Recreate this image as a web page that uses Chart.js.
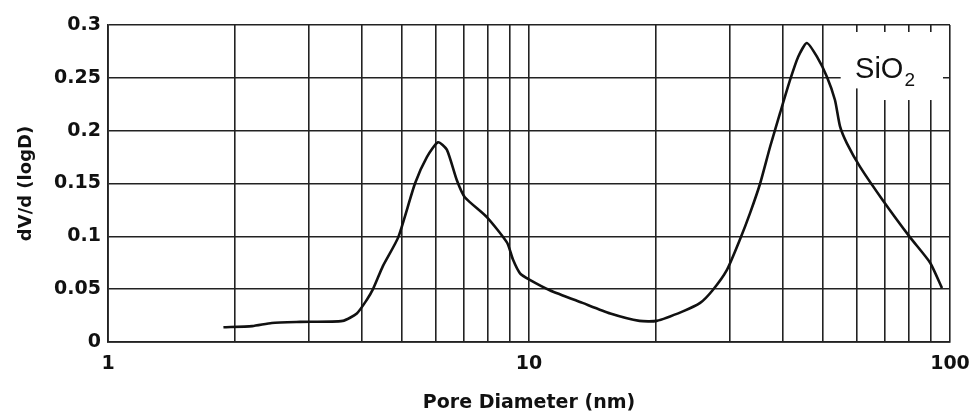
<!DOCTYPE html>
<html>
<head>
<meta charset="utf-8">
<script src="https://cdn.jsdelivr.net/npm/chart.js@4"></script>
<style>
  body { margin: 0; background: #fff; }
  canvas { display: block; }
</style>
</head>
<body>
<canvas id="poreChart" width="978" height="414"></canvas>
<script>
// pore size distribution (BJH style), dV/d(logD) vs diameter
const diameters = [1.88, 2.2, 2.45, 2.86, 3.61, 3.90, 4.12, 4.26, 4.50, 4.89, 5.36, 5.72, 6.08, 6.38, 6.74, 7.04, 7.95, 8.87, 9.16, 9.52, 10.02, 11.2, 13.4, 15.6, 18.3, 20.1, 23.2, 25.5, 27.3, 29.5, 31.7, 33.5, 35.4, 37.4, 39.5, 41.7, 43.6, 45.7, 48.3, 51.0, 53.3, 54.8, 56.9, 61.1, 69.3, 80.4, 89.7, 95.7];
const dvValues  = [0.014, 0.015, 0.018, 0.019, 0.020, 0.027, 0.040, 0.050, 0.072, 0.099, 0.150, 0.175, 0.189, 0.182, 0.153, 0.137, 0.118, 0.094, 0.078, 0.065, 0.059, 0.049, 0.037, 0.027, 0.020, 0.020, 0.029, 0.037, 0.049, 0.068, 0.097, 0.122, 0.150, 0.185, 0.217, 0.248, 0.270, 0.283, 0.270, 0.251, 0.229, 0.204, 0.188, 0.166, 0.134, 0.099, 0.075, 0.051];

const xGridValues = [1, 2, 3, 4, 5, 6, 7, 8, 9, 10, 20, 30, 40, 50, 60, 70, 80, 90, 100];
const xTickLabels = { 1: '1', 10: '10', 100: '100' };
const yTickLabels = ['0', '0.05', '0.1', '0.15', '0.2', '0.25', '0.3'];

const fontFamily = '"DejaVu Sans", Verdana, sans-serif';
const axisFont = { family: fontFamily, size: 19, weight: 'bold' };

// white box behind the sample label, then the label itself
const sampleLabel = {
  id: 'sampleLabel',
  beforeDatasetsDraw(chart) {
    const { ctx, chartArea, scales } = chart;
    const x0 = scales.x.getPixelForValue(55);
    const x1 = scales.x.getPixelForValue(64);
    const xr = chartArea.right - 7;
    const top = chartArea.top + 7;
    ctx.save();
    ctx.fillStyle = '#fff';
    ctx.fillRect(x0, top, xr - x0, scales.y.getPixelForValue(0.24) - top);
    ctx.fillRect(x1, top, xr - x1, scales.y.getPixelForValue(0.229) - top);
    ctx.restore();
  },
  afterDatasetsDraw(chart) {
    const { ctx, scales } = chart;
    const x = scales.x.getPixelForValue(59.5);
    const y = scales.y.getPixelForValue(0.25);
    ctx.save();
    ctx.fillStyle = '#111';
    ctx.textBaseline = 'alphabetic';
    ctx.font = '29px "Liberation Sans", Arial, sans-serif';
    ctx.fillText('SiO', x, y);
    const w = ctx.measureText('SiO').width;
    ctx.font = '19px "Liberation Sans", Arial, sans-serif';
    ctx.fillText('2', x + w + 1, y + 8);
    ctx.restore();
  }
};

const ctx = document.getElementById('poreChart').getContext('2d');
const poreChart = new Chart(ctx, {
  type: 'line',
  data: {
    datasets: [{
      label: 'SiO2',
      data: diameters.map((d, i) => ({ x: d, y: dvValues[i] })),
      borderColor: '#111',
      borderWidth: 2.6,
      pointRadius: 0,
      tension: 0.2,
      fill: false
    }]
  },
  options: {
    responsive: false,
    animation: false,
    layout: { padding: { top: 25, right: 28, left: 0, bottom: 0 } },
    plugins: {
      legend: { display: false },
      tooltip: { enabled: false }
    },
    scales: {
      x: {
        type: 'logarithmic',
        min: 1,
        max: 100,
        afterBuildTicks: axis => { axis.ticks = xGridValues.map(v => ({ value: v })); },
        afterFit: axis => {
          axis.height = 72;
          axis.paddingLeft = 0;
          axis.paddingRight = 0;
        },
        grid: { color: '#222', lineWidth: 1.6, drawTicks: false },
        border: { color: '#222', width: 1.8 },
        ticks: {
          autoSkip: false,
          maxRotation: 0,
          padding: 11,
          color: '#111',
          font: axisFont,
          callback: v => xTickLabels[v] || ''
        },
        title: {
          display: true,
          text: 'Pore Diameter (nm)',
          color: '#111',
          font: { family: fontFamily, size: 19, weight: 'bold' },
          padding: { top: 2, bottom: 0 }
        }
      },
      y: {
        min: 0,
        max: 0.3,
        afterFit: axis => { axis.width = 108; },
        grid: { color: '#222', lineWidth: 1.6, drawTicks: false },
        border: { color: '#222', width: 1.8 },
        ticks: {
          stepSize: 0.05,
          padding: 7,
          color: '#111',
          font: axisFont,
          callback: (v, i) => yTickLabels[i]
        },
        title: {
          display: true,
          text: 'dV/d (logD)',
          color: '#111',
          font: { family: fontFamily, size: 18, weight: 'bold' },
          padding: { top: 16, bottom: 0 }
        }
      }
    }
  },
  plugins: [sampleLabel]
});
</script>
</body>
</html>
